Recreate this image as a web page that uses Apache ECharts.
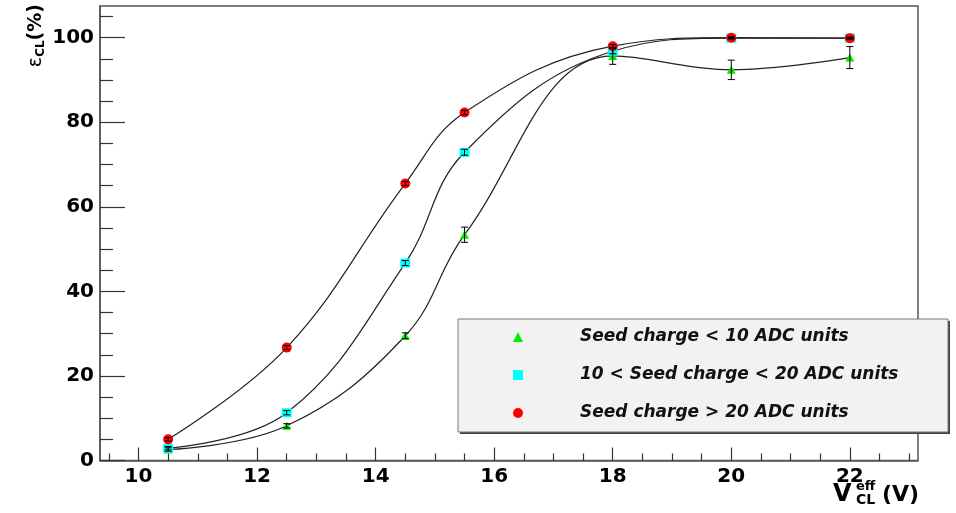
<!DOCTYPE html>
<html>
<head>
<meta charset="utf-8">
<script src="https://cdn.jsdelivr.net/npm/echarts@6/dist/echarts.min.js"></script>
<style>
  html, body { margin: 0; padding: 0; background: #ffffff; }
  #chart { width: 956px; height: 513px; }
</style>
</head>
<body>
<div id="chart"></div>
<script>
// Cluster efficiency vs effective voltage for three seed-charge thresholds
const voltages = [10.5, 12.5, 14.5, 15.5, 18, 20, 22];

const effLow  = [2.6, 8.2, 29.5, 53.4, 95.7, 92.4, 95.3];
const errLow  = [0.4, 0.5, 0.7, 1.8, 2.0, 2.3, 2.6];

const effMid  = [2.9, 11.3, 46.7, 72.9, 96.8, 99.9, 99.9];
const errMid  = [0.4, 0.5, 0.6, 0.7, 0.6, 0.2, 0.2];

const effHigh = [5.0, 26.7, 65.5, 82.3, 98.0, 100.0, 99.9];
const errHigh = [0.4, 0.5, 0.5, 0.5, 0.4, 0.2, 0.2];

const seriesNames = [
  'Seed charge < 10 ADC units',
  '10 < Seed charge < 20 ADC units',
  'Seed charge > 20 ADC units'
];

const xMajorTicks = [10, 12, 14, 16, 18, 20, 22];
const xMinorTicks = [9.5, 10.5, 11, 11.5, 12.5, 13, 13.5, 14.5, 15, 15.5, 16.5, 17, 17.5,
                     18.5, 19, 19.5, 20.5, 21, 21.5, 22.5, 23];
const yMajorTicks = [0, 20, 40, 60, 80, 100];
const yMinorTicks = [5, 10, 15, 25, 30, 35, 45, 50, 55, 65, 70, 75, 85, 90, 95, 105];

const X_MIN = 9.35, X_MAX = 23.15, Y_MIN = 0, Y_MAX = 107.5;

const markerColors = ['#00ee00', '#00ffff', '#ff0000'];
const markerShapes = ['triangle', 'rect', 'circle'];
const markerSizes = [[9, 8], [10, 9], [10, 10]];

const effSets = [effLow, effMid, effHigh];
const errSets = [errLow, errMid, errHigh];

const tickFont = { fontFamily: 'DejaVu Sans', fontWeight: 'bold', fontSize: 20, color: '#000' };
const frameColor = '#555555';

function pairs(ys) { return voltages.map((v, i) => [v, ys[i]]); }
function triples(ys, es) { return voltages.map((v, i) => [v, ys[i], es[i]]); }

function renderErrorBar(params, api) {
  const x = api.value(0), y = api.value(1), e = api.value(2);
  const top = api.coord([x, y + e]);
  const bot = api.coord([x, y - e]);
  const hw = 3.5;
  const st = { stroke: '#000', lineWidth: 1 };
  return {
    type: 'group',
    children: [
      { type: 'line', shape: { x1: top[0], y1: top[1], x2: bot[0], y2: bot[1] }, style: st },
      { type: 'line', shape: { x1: top[0] - hw, y1: top[1], x2: top[0] + hw, y2: top[1] }, style: st },
      { type: 'line', shape: { x1: bot[0] - hw, y1: bot[1], x2: bot[0] + hw, y2: bot[1] }, style: st }
    ]
  };
}

const series = [];
// smooth curves through each data set
effSets.forEach((ys, k) => {
  series.push({
    name: 'curve' + k,
    type: 'line',
    xAxisIndex: 0, yAxisIndex: 0,
    data: pairs(ys),
    smooth: 0.4,
    showSymbol: false,
    silent: true,
    lineStyle: { color: '#222', width: 1.2 },
    z: 2
  });
});
// markers
effSets.forEach((ys, k) => {
  series.push({
    name: seriesNames[k],
    type: 'scatter',
    xAxisIndex: 0, yAxisIndex: 0,
    data: pairs(ys),
    symbol: markerShapes[k],
    symbolSize: markerSizes[k],
    itemStyle: { color: markerColors[k], opacity: 1 },
    z: 3
  });
});
// error bars
effSets.forEach((ys, k) => {
  series.push({
    name: 'err' + k,
    type: 'custom',
    xAxisIndex: 0, yAxisIndex: 0,
    data: triples(ys, errSets[k]),
    encode: { x: 0, y: 1 },
    renderItem: renderErrorBar,
    silent: true,
    z: 4
  });
});

const gridRect = { left: 100, right: 38, top: 6, bottom: 52.5 };

const option = {
  backgroundColor: '#ffffff',
  animation: false,
  grid: [
    Object.assign({ show: true, borderColor: frameColor, borderWidth: 1.5, backgroundColor: '#fff', containLabel: false }, gridRect),
    Object.assign({ show: false, containLabel: false }, gridRect)
  ],
  xAxis: [
    {
      type: 'value', gridIndex: 0, min: X_MIN, max: X_MAX, position: 'bottom',
      axisLine: { show: true, onZero: false, lineStyle: { color: frameColor, width: 1.5 } },
      axisTick: { show: true, inside: true, length: 13, customValues: xMajorTicks, lineStyle: { color: '#333', width: 1.2 } },
      axisLabel: Object.assign({ customValues: xMajorTicks, margin: 6 }, tickFont),
      splitLine: { show: false }
    },
    {
      type: 'value', gridIndex: 1, min: X_MIN, max: X_MAX, position: 'bottom',
      axisLine: { show: false },
      axisTick: { show: true, inside: true, length: 7, customValues: xMinorTicks, lineStyle: { color: '#333', width: 1.2 } },
      axisLabel: { show: false },
      splitLine: { show: false }
    }
  ],
  yAxis: [
    {
      type: 'value', gridIndex: 0, min: Y_MIN, max: Y_MAX, position: 'left',
      axisLine: { show: true, onZero: false, lineStyle: { color: frameColor, width: 1.5 } },
      axisTick: { show: true, inside: true, length: 25, customValues: yMajorTicks, lineStyle: { color: '#333', width: 1.2 } },
      axisLabel: Object.assign({ customValues: yMajorTicks, margin: 6 }, tickFont),
      splitLine: { show: false }
    },
    {
      type: 'value', gridIndex: 1, min: Y_MIN, max: Y_MAX, position: 'left',
      axisLine: { show: false },
      axisTick: { show: true, inside: true, length: 13, customValues: yMinorTicks, lineStyle: { color: '#333', width: 1.2 } },
      axisLabel: { show: false },
      splitLine: { show: false }
    }
  ],
  legend: {
    data: seriesNames,
    orient: 'vertical',
    left: 513,
    top: 327,
    padding: 0,
    itemWidth: 10,
    itemHeight: 10,
    itemGap: 18,
    z: 12,
    selectedMode: false,
    textStyle: {
      fontFamily: 'DejaVu Sans', fontWeight: 'bold', fontStyle: 'italic',
      fontSize: 17, color: '#111', lineHeight: 20, padding: [0, 0, 0, 52]
    }
  },
  graphic: [
    // legend frame with a drop shadow
    { type: 'rect', z: 10, shape: { x: 460, y: 321, width: 490, height: 113 }, style: { fill: '#444' } },
    { type: 'rect', z: 10, shape: { x: 458, y: 319, width: 490, height: 113 }, style: { fill: '#f2f2f2', stroke: '#777', lineWidth: 1 } },
    // y-axis title
    {
      type: 'text', z: 10, x: 36, y: 4, rotation: Math.PI / 2,
      style: {
        text: '{e|ε}{s|CL}{p|(%)}',
        align: 'right', verticalAlign: 'middle',
        rich: {
          e: { fontFamily: 'DejaVu Sans', fontSize: 19, fill: '#000', verticalAlign: 'middle' },
          s: { fontFamily: 'DejaVu Sans', fontWeight: 'bold', fontSize: 12, fill: '#000', padding: [10, 0, 0, 0], verticalAlign: 'middle' },
          p: { fontFamily: 'DejaVu Sans', fontWeight: 'bold', fontSize: 19, fill: '#000', verticalAlign: 'middle' }
        }
      }
    },
    // x-axis title
    { type: 'text', z: 10, x: 833, y: 495, style: { text: 'V', fontFamily: 'DejaVu Sans', fontWeight: 'bold', fontSize: 24, fill: '#000', align: 'left', verticalAlign: 'middle' } },
    { type: 'text', z: 10, x: 856, y: 487, style: { text: 'eff', fontFamily: 'DejaVu Sans', fontWeight: 'bold', fontSize: 13, fill: '#000', align: 'left', verticalAlign: 'middle' } },
    { type: 'text', z: 10, x: 856, y: 500, style: { text: 'CL', fontFamily: 'DejaVu Sans', fontWeight: 'bold', fontSize: 14, fill: '#000', align: 'left', verticalAlign: 'middle' } },
    { type: 'text', z: 10, x: 882, y: 495, style: { text: '(V)', fontFamily: 'DejaVu Sans', fontWeight: 'bold', fontSize: 22, fill: '#000', align: 'left', verticalAlign: 'middle' } }
  ],
  series: series
};

const chart = echarts.init(document.getElementById('chart'), null, { renderer: 'canvas' });
chart.setOption(option);
</script>
</body>
</html>
